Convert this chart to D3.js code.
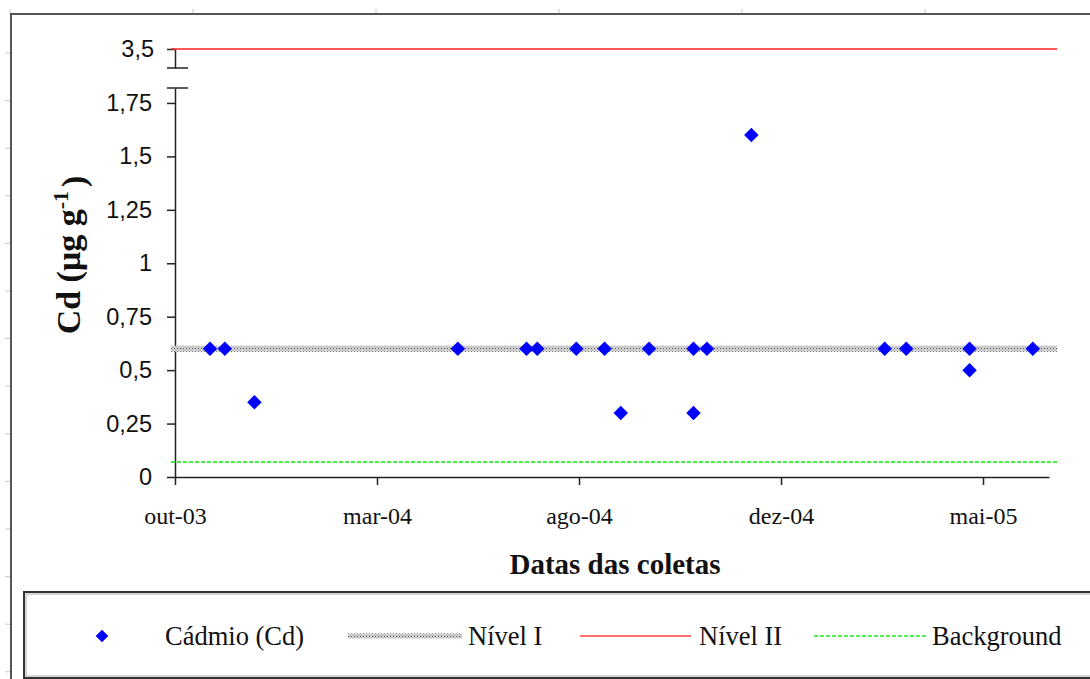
<!DOCTYPE html>
<html>
<head>
<meta charset="utf-8">
<script src="https://cdn.jsdelivr.net/npm/d3@7"></script>
<style>
    body { margin: 0; background: #ffffff; }
    svg { display: block; }
</style>
</head>
<body>
<div id="chart-container"></div>
<script>
// Sampling dates and cadmium concentrations (µg g-1)
const sampleDates = [
    '2003-11-01', '2003-11-12', '2003-12-04', '2004-05-03', '2004-06-23',
    '2004-07-01', '2004-07-30', '2004-08-20', '2004-09-01', '2004-09-22',
    '2004-10-25', '2004-10-25', '2004-11-04', '2004-12-07', '2005-03-16',
    '2005-04-01', '2005-05-18', '2005-05-18', '2005-07-04'
];
const cdValues = [
    0.6, 0.6, 0.35, 0.6, 0.6,
    0.6, 0.6, 0.6, 0.3, 0.6,
    0.6, 0.3, 0.6, 1.6, 0.6,
    0.6, 0.6, 0.5, 0.6
];

// Reference levels
const nivelI = 0.6;
const nivelII = 3.5;
const background = 0.07;
const levelSpan = ['2003-10-03', '2005-07-22'];

// Axes
const xDomain = ['2003-10-06', '2005-07-16'];
const xTickDates = ['2003-10-06', '2004-03-04', '2004-08-01', '2004-12-29', '2005-05-28'];
const xTickLabels = ['out-03', 'mar-04', 'ago-04', 'dez-04', 'mai-05'];
const yTicksLow = [0, 0.25, 0.5, 0.75, 1, 1.25, 1.5, 1.75];
const yTicksHigh = [3.5];

const parse = d3.utcParse('%Y-%m-%d');
const ptBR = d3.formatLocale({ decimal: ',', thousands: '.', grouping: [3], currency: ['R$', ''] });
const fmt = ptBR.format('~g');

const W = 1090, H = 679;
const svg = d3.select('#chart-container')
    .append('svg')
    .attr('width', W)
    .attr('height', H);

// Page frame with the faint ruler marks around it
svg.append('rect').attr('width', W).attr('height', H).attr('fill', '#ffffff');
svg.selectAll('.ruler-top')
    .data(d3.range(10, W, 183))
    .join('line')
    .attr('x1', d => d).attr('x2', d => d)
    .attr('y1', 9).attr('y2', 14)
    .attr('stroke', '#c8c8c8').attr('stroke-width', 1);
svg.selectAll('.ruler-left')
    .data(d3.range(53, H, 47.6))
    .join('line')
    .attr('x1', 5).attr('x2', 11)
    .attr('y1', d => d).attr('y2', d => d)
    .attr('stroke', '#c8c8c8').attr('stroke-width', 1);
svg.append('path')
    .attr('d', `M11,${H} L11,14 L${W},14`)
    .attr('fill', 'none')
    .attr('stroke', '#555555')
    .attr('stroke-width', 2);

// Scales (broken y axis: 0..1.82 below, 3.41..3.5 above)
const xScale = d3.scaleUtc()
    .domain(xDomain.map(parse))
    .range([175, 1049]);

const yLow = d3.scaleLinear().domain([0, 1.82]).range([477, 88]);
const yHigh = d3.scaleLinear().domain([3.411, 3.5]).range([68, 49]);
const yOf = v => v > 2 ? yHigh(v) : yLow(v);

// Pattern for Nível I (dotted grey band)
const defs = svg.append('defs');
const pat = defs.append('pattern')
    .attr('id', 'nivel1')
    .attr('patternUnits', 'userSpaceOnUse')
    .attr('width', 3).attr('height', 3);
pat.append('rect').attr('width', 3).attr('height', 3).attr('fill', '#dcdcdc');
pat.append('rect').attr('x', 0).attr('y', 0).attr('width', 1).attr('height', 1).attr('fill', '#444444');
pat.append('rect').attr('x', 1.5).attr('y', 1.5).attr('width', 1).attr('height', 1).attr('fill', '#777777');

// X axis
const xAxis = svg.append('g')
    .attr('transform', `translate(0,${yLow(0)})`)
    .call(d3.axisBottom(xScale)
        .tickValues(xTickDates.map(parse))
        .tickFormat((d, i) => xTickLabels[i])
        .tickSizeInner(8)
        .tickSizeOuter(0));
xAxis.select('.domain').attr('stroke', '#222222').attr('stroke-width', 1.5);
xAxis.selectAll('.tick line').attr('stroke', '#222222').attr('stroke-width', 1.5);
xAxis.selectAll('.tick text')
    .attr('dy', null)
    .attr('y', 47)
    .attr('fill', '#111111')
    .attr('font-family', '"Liberation Serif", "Times New Roman", serif')
    .attr('font-size', '24px');

// Y axis, lower part
const yAxisLow = svg.append('g')
    .attr('transform', 'translate(175,0)')
    .call(d3.axisLeft(yLow)
        .tickValues(yTicksLow)
        .tickFormat(fmt)
        .tickSizeInner(8)
        .tickSizeOuter(0)
        .tickPadding(15));

// Y axis, upper part
const yAxisHigh = svg.append('g')
    .attr('transform', 'translate(175,0)')
    .call(d3.axisLeft(yHigh)
        .tickValues(yTicksHigh)
        .tickFormat(fmt)
        .tickSizeInner(8)
        .tickSizeOuter(0)
        .tickPadding(13));

[yAxisLow, yAxisHigh].forEach(g => {
    g.select('.domain').attr('stroke', '#222222').attr('stroke-width', 1.5);
    g.selectAll('.tick line').attr('stroke', '#222222').attr('stroke-width', 1.5);
    g.selectAll('.tick text')
        .attr('fill', '#111111')
        .attr('font-family', '"Liberation Sans", Arial, sans-serif')
        .attr('font-size', '23.5px');
});

// Break caps
const capY = [yLow(yLow.domain()[1]), yHigh(yHigh.domain()[0])];
svg.selectAll('.break-cap')
    .data(capY)
    .join('line')
    .attr('x1', 167).attr('x2', 188)
    .attr('y1', d => d).attr('y2', d => d)
    .attr('stroke', '#222222').attr('stroke-width', 1.5);

// Axis titles
svg.append('text')
    .attr('x', 615)
    .attr('y', 574)
    .attr('text-anchor', 'middle')
    .attr('font-family', '"Liberation Serif", "Times New Roman", serif')
    .attr('font-weight', 'bold')
    .attr('font-size', '29px')
    .attr('fill', '#111111')
    .text('Datas das coletas');

const yTitle = svg.append('text')
    .attr('transform', 'translate(80,255) rotate(-90)')
    .attr('text-anchor', 'middle')
    .attr('font-family', '"Liberation Serif", "Times New Roman", serif')
    .attr('font-weight', 'bold')
    .attr('font-size', '34px')
    .attr('fill', '#111111');
yTitle.append('tspan').text('Cd (μg g');
yTitle.append('tspan').attr('dy', '-0.55em').attr('font-size', '22px').text('-1');
yTitle.append('tspan').attr('dy', '0.5em').attr('dx', '4').text(')');

// Reference lines
const lineGen = d3.line()
    .x(d => xScale(d[0]))
    .y(d => yOf(d[1]));
const span = levelSpan.map(parse);

svg.append('path')
    .attr('d', lineGen(span.map(d => [d, nivelI])))
    .attr('fill', 'none')
    .attr('stroke', 'url(#nivel1)')
    .attr('stroke-width', 6);

svg.append('path')
    .attr('d', lineGen(span.map(d => [d, nivelII])))
    .attr('fill', 'none')
    .attr('stroke', '#ff2020')
    .attr('stroke-width', 1.5);

svg.append('path')
    .attr('d', lineGen(span.map(d => [d, background])))
    .attr('fill', 'none')
    .attr('stroke', '#00ee00')
    .attr('stroke-width', 1.5)
    .attr('stroke-dasharray', '4,2');

// Cadmium points
const diamond = d3.symbol().type(d3.symbolSquare).size(105);
svg.selectAll('.pt')
    .data(sampleDates.map((d, i) => ({ date: parse(d), value: cdValues[i] })))
    .join('path')
    .attr('class', 'pt')
    .attr('d', diamond)
    .attr('transform', d => `translate(${xScale(d.date)},${yOf(d.value)}) rotate(45)`)
    .attr('fill', '#0000ff');

// Legend
const legend = svg.append('g');
legend.append('rect')
    .attr('x', 24).attr('y', 592)
    .attr('width', W).attr('height', 86)
    .attr('fill', '#ffffff')
    .attr('stroke', '#333333')
    .attr('stroke-width', 2);
legend.append('rect')
    .attr('x', 26).attr('y', 594)
    .attr('width', W).attr('height', 82)
    .attr('fill', 'none')
    .attr('stroke', '#aaaaaa')
    .attr('stroke-width', 1);

const ly = 636;
const legendItems = [
    { label: 'Cádmio (Cd)', kind: 'point', x0: 102, tx: 165 },
    { label: 'Nível I', kind: 'nivel1', x0: 348, x1: 462, tx: 468 },
    { label: 'Nível II', kind: 'nivel2', x0: 580, x1: 691, tx: 699 },
    { label: 'Background', kind: 'bg', x0: 814, x1: 926, tx: 932 }
];
legendItems.forEach(item => {
    if (item.kind === 'point') {
        legend.append('path')
            .attr('d', d3.symbol().type(d3.symbolSquare).size(80))
            .attr('transform', `translate(${item.x0},${ly}) rotate(45)`)
            .attr('fill', '#0000ff');
    } else if (item.kind === 'nivel1') {
        legend.append('line')
            .attr('x1', item.x0).attr('x2', item.x1)
            .attr('y1', ly).attr('y2', ly)
            .attr('stroke', 'url(#nivel1)').attr('stroke-width', 5);
    } else if (item.kind === 'nivel2') {
        legend.append('line')
            .attr('x1', item.x0).attr('x2', item.x1)
            .attr('y1', ly).attr('y2', ly)
            .attr('stroke', '#ff4040').attr('stroke-width', 1.5);
    } else {
        legend.append('line')
            .attr('x1', item.x0).attr('x2', item.x1)
            .attr('y1', ly).attr('y2', ly)
            .attr('stroke', '#22ee22').attr('stroke-width', 1.5)
            .attr('stroke-dasharray', '4,2');
    }
    legend.append('text')
        .attr('x', item.tx)
        .attr('y', ly + 9)
        .attr('font-family', '"Liberation Serif", "Times New Roman", serif')
        .attr('font-size', '26.5px')
        .attr('fill', '#111111')
        .text(item.label);
});
</script>
</body>
</html>
